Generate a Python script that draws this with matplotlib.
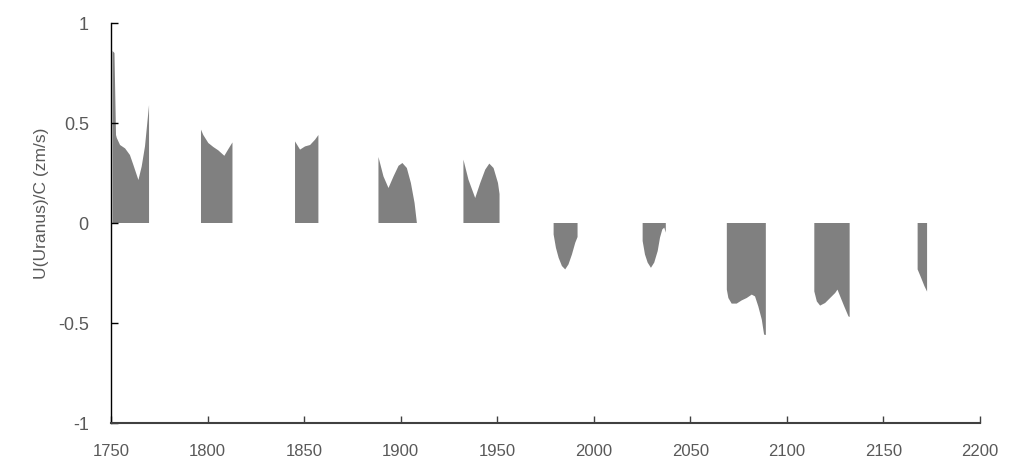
import numpy as np
import matplotlib
matplotlib.use("Agg")
import matplotlib.pyplot as plt

nan = np.nan
# segment data (year, U/C), NaN separates the observation windows
years = [
    1750.8, 1751.8, 1752.6, 1753.0, 1754.7, 1757.3, 1759.8, 1761.6, 1764.2, 1765.9, 1767.6, 1769.7, nan,
    1796.6, 1797.8, 1800.4, 1803.0, 1805.6, 1808.7, 1810.8, 1812.9, nan,
    1845.3, 1847.9, 1850.5, 1853.1, 1855.7, 1857.4, nan,
    1888.5, 1891.1, 1893.7, 1896.3, 1898.9, 1900.9, 1903.2, 1905.3, 1907.2, 1908.4, nan,
    1932.5, 1935.1, 1938.6, 1941.2, 1943.8, 1945.9, 1948.1, 1950.4, 1951.2, nan,
    1979.2, 1980.4, 1981.8, 1983.5, 1985.2, 1986.9, 1988.7, 1990.4, 1991.6, nan,
    2025.3, 2026.5, 2027.9, 2029.6, 2031.3, 2033.1, 2034.3, 2035.5, 2036.5, 2037.3, nan,
    2068.9, 2069.7, 2071.4, 2074.0, 2076.6, 2079.2, 2081.8, 2083.5, 2085.2, 2087.0, 2088.2, 2089.1, nan,
    2114.2, 2115.5, 2117.2, 2119.8, 2122.4, 2125.0, 2126.2, 2127.6, 2129.7, 2131.9, 2132.5, nan,
    2167.7, 2169.5, 2171.2, 2172.6,
]
values = [
    0.86, 0.85, 0.44, 0.425, 0.39, 0.373, 0.34, 0.29, 0.215, 0.283, 0.383, 0.59, nan,
    0.467, 0.44, 0.40, 0.38, 0.363, 0.336, 0.37, 0.403, nan,
    0.408, 0.367, 0.383, 0.39, 0.417, 0.44, nan,
    0.33, 0.233, 0.175, 0.233, 0.286, 0.30, 0.275, 0.20, 0.10, 0.0, nan,
    0.317, 0.217, 0.125, 0.20, 0.267, 0.297, 0.275, 0.20, 0.145, nan,
    -0.057, -0.124, -0.174, -0.215, -0.232, -0.207, -0.157, -0.099, -0.07, nan,
    -0.09, -0.157, -0.198, -0.224, -0.198, -0.14, -0.073, -0.032, -0.023, -0.048, nan,
    -0.333, -0.375, -0.403, -0.403, -0.387, -0.375, -0.358, -0.367, -0.417, -0.483, -0.558, -0.56, nan,
    -0.342, -0.392, -0.413, -0.40, -0.375, -0.35, -0.333, -0.367, -0.417, -0.467, -0.47, nan,
    -0.232, -0.274, -0.315, -0.343,
]
xticks = [1750, 1800, 1850, 1900, 1950, 2000, 2050, 2100, 2150, 2200]
yticks = [-1, -0.5, 0, 0.5, 1]
ytick_labels = ["-1", "-0.5", "0", "0.5", "1"]
ylabel = "U(Uranus)/C (zm/s)"

plt.rcParams['font.family'] = ['Liberation Sans', 'DejaVu Sans']

fig = plt.figure(figsize=(10.24, 4.74), dpi=100)
ax = fig.add_axes([111/1024, 51/474, 869/1024, 400/474])

x = np.array(years, dtype=float)
y = np.array(values, dtype=float)
ax.fill_between(x, 0, y, color="#808080", linewidth=0)

ax.set_xlim(1750, 2200)
ax.set_ylim(-1, 1)
ax.set_xticks(xticks)
ax.set_xticklabels([str(t) for t in xticks])
ax.set_yticks(yticks)
ax.set_yticklabels(ytick_labels)

for s in ["top", "right"]:
    ax.spines[s].set_visible(False)
ax.spines["left"].set_color("black")
ax.spines["left"].set_linewidth(1.0)
ax.spines["bottom"].set_color("#404040")
ax.spines["bottom"].set_linewidth(1.5)

ax.tick_params(axis="x", direction="in", length=5, width=1, color="#404040",
               labelsize=12, labelcolor="#595959", pad=15)
ax.tick_params(axis="y", direction="in", length=5, width=1, color="black",
               labelsize=13, labelcolor="#595959", pad=16)
ax.text(-0.08, 0.55, ylabel, transform=ax.transAxes, rotation=90,
        ha="center", va="center", fontsize=12.5, color="#595959")

fig.savefig("out.png", dpi=100)
